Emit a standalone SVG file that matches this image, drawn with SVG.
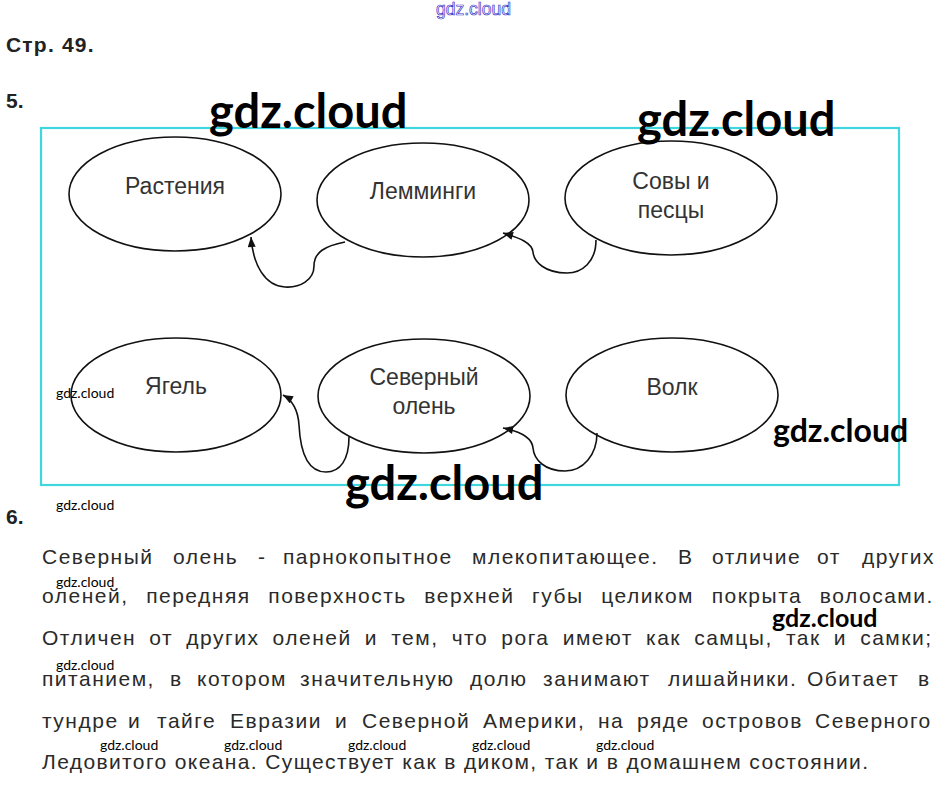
<svg xmlns="http://www.w3.org/2000/svg" width="946" height="792" viewBox="0 0 946 792">
<defs>
<style>
.node ellipse{fill:#fff;stroke:#111;stroke-width:1.6}
.lbl{font-family:"Liberation Sans",Arial,sans-serif;font-size:23px;fill:#333;text-anchor:middle}
.conn path{fill:none;stroke:#111;stroke-width:1.6}
.hdr{font-family:"Liberation Sans",Arial,sans-serif;font-weight:bold;font-size:21px;fill:#222}
.par{font-family:"Liberation Sans",Arial,sans-serif;font-size:21px;fill:#2a2a2a;letter-spacing:1.5px}
.wm{font-family:Lato,"Open Sans",sans-serif;font-weight:bold;fill:#000}
.wms{font-family:Lato,"Open Sans",sans-serif;font-size:14px;fill:#000}
</style>
<marker id="arr" viewBox="0 0 10 8" refX="10" refY="4" markerWidth="11" markerHeight="8" markerUnits="userSpaceOnUse" orient="auto">
<path d="M0,0 L10,4 L0,8 Z" fill="#111"/>
</marker>
</defs>
<rect width="946" height="792" fill="#fff"/>

<text x="436" y="15" font-family="'Liberation Sans',Arial,sans-serif" font-size="17.5" fill="none" stroke="#3838c8" stroke-width="0.7">gdz.cloud</text>
<text class="hdr" x="6" y="52" letter-spacing="1.2">Стр. 49.</text>
<text class="hdr" x="6" y="108">5.</text>
<text class="hdr" x="6" y="524">6.</text>

<rect x="41" y="128" width="858" height="357" fill="none" stroke="#3fd6e0" stroke-width="2.2"/>

<g id="plants" class="node"><ellipse cx="175" cy="194" rx="106" ry="57"/><text class="lbl" x="175" y="194">Растения</text></g>
<g id="lemmings" class="node"><ellipse cx="423" cy="200" rx="106" ry="57"/><text class="lbl" x="423" y="199">Лемминги</text></g>
<g id="owls" class="node"><ellipse cx="671" cy="198" rx="106" ry="57"/><text class="lbl" x="671" y="189">Совы и</text><text class="lbl" x="671" y="218">песцы</text></g>
<g id="lichen" class="node"><ellipse cx="176" cy="395" rx="105" ry="57"/><text class="lbl" x="176" y="394">Ягель</text></g>
<g id="reindeer" class="node"><ellipse cx="424" cy="396" rx="106" ry="57"/><text class="lbl" x="424" y="385">Северный</text><text class="lbl" x="424" y="414">олень</text></g>
<g id="wolf" class="node"><ellipse cx="672" cy="395" rx="106" ry="57"/><text class="lbl" x="672" y="395">Волк</text></g>

<g id="connectors" class="conn">
<path d="M345,242 C325,246 314,252 314,266 C314,280 300,288 285,287 C265,286 253,265 251,237" marker-end="url(#arr)"/>
<path d="M596,240 C596,262 582,273 567,273 C545,273 534,262 533,252 C532,243 520,238 503,233" marker-end="url(#arr)"/>
<path d="M349,437 C349,460 340,472 326,472 C305,472 300,445 299,425 C298,410 292,400 283,395" marker-end="url(#arr)"/>
<path d="M597,433 C597,455 583,471 565,471 C545,471 534,460 533,448 C532,437 518,431 503,428" marker-end="url(#arr)"/>
</g>

<text class="par" y="564"><tspan x="42">Северный</tspan><tspan x="173">олень</tspan><tspan x="258">-</tspan><tspan x="283">парнокопытное</tspan><tspan x="472">млекопитающее.</tspan><tspan x="678">В</tspan><tspan x="712">отличие</tspan><tspan x="817">от</tspan><tspan x="862">других</tspan></text>
<text class="par" x="42" y="603" word-spacing="10.3">оленей, передняя поверхность верхней губы целиком покрыта волосами.</text>
<text class="par" x="42" y="645" word-spacing="5.8">Отличен от других оленей и тем, что рога имеют как самцы, так и самки;</text>
<text class="par" y="686"><tspan x="42">питанием,</tspan><tspan x="170">в</tspan><tspan x="197">котором</tspan><tspan x="300">значительную</tspan><tspan x="470">долю</tspan><tspan x="543">занимают</tspan><tspan x="668">лишайники.</tspan><tspan x="807">Обитает</tspan><tspan x="918">в</tspan></text>
<text class="par" y="728"><tspan x="42">тундре</tspan><tspan x="128">и</tspan><tspan x="157">тайге</tspan><tspan x="230">Евразии</tspan><tspan x="335">и</tspan><tspan x="362">Северной</tspan><tspan x="483">Америки,</tspan><tspan x="598">на</tspan><tspan x="637">ряде</tspan><tspan x="702">островов</tspan><tspan x="815">Северного</tspan></text>
<text class="par" x="42" y="769" style="letter-spacing:1.38px">Ледовитого океана. Существует как в диком, так и в домашнем состоянии.</text>

<text class="wm" x="209" y="128" font-size="47">gdz.cloud</text>
<text class="wm" x="637" y="136" font-size="47">gdz.cloud</text>
<text class="wm" x="345" y="500" font-size="47">gdz.cloud</text>
<text class="wm" x="773" y="442" font-size="32">gdz.cloud</text>
<text class="wm" x="772" y="627" font-size="25">gdz.cloud</text>
<text class="wms" x="56" y="398">gdz.cloud</text>
<text class="wms" x="56" y="510">gdz.cloud</text>
<text class="wms" x="56" y="587">gdz.cloud</text>
<text class="wms" x="56" y="670">gdz.cloud</text>
<text class="wms" x="100" y="750">gdz.cloud</text>
<text class="wms" x="224" y="750">gdz.cloud</text>
<text class="wms" x="348" y="750">gdz.cloud</text>
<text class="wms" x="472" y="750">gdz.cloud</text>
<text class="wms" x="596" y="750">gdz.cloud</text>
</svg>
